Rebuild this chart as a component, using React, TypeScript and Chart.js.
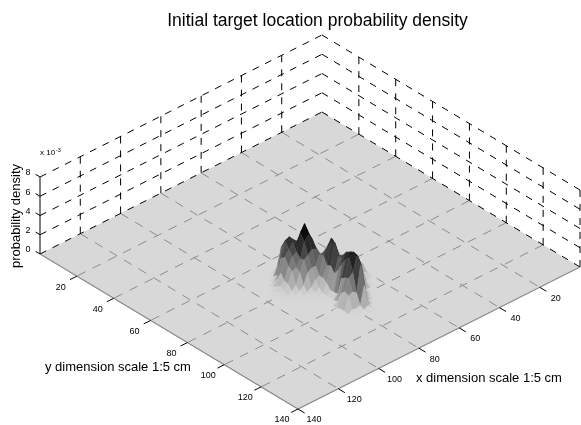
import React, { useEffect, useRef } from "react";
import { Chart, registerables } from "chart.js";

Chart.register(...registerables);

const titleText = "Initial target location probability density";
const zAxisLabel = "probability density";
const xAxisLabel = "x dimension scale 1:5 cm";
const yAxisLabel = "y dimension scale 1:5 cm";
const xTicks = [20, 40, 60, 80, 100, 120, 140];
const yTicks = [20, 40, 60, 80, 100, 120, 140];
const zTicks = [0, 2, 4, 6, 8];
const xGrid = [60, 62, 64, 66, 68, 70, 72, 74, 76, 78, 80, 82, 84, 86, 88, 90, 92, 94, 96];
const yGrid = [66, 68, 70, 72, 74, 76, 78, 80, 82, 84, 86, 88, 90, 92, 94, 96, 98, 100, 102, 104, 106, 108, 110, 112];
// probability density (x 10^-3), one row per xGrid value, one column per yGrid value
const density = [
  [0, 0, 0, 0, 0, 0, 0, 0, 0, 0, 0, 0, 0, 0, 0, 0, 0, 0, 0, 0, 0, 0, 0, 0],
  [0, 0, 0, 0, .2, .6, .4, .3, .6, 1.0, 1.1, 1.2, 1.1, .5, .1, 0, 0, 0, 0, 0, 0, 0, 0, 0],
  [.3, .1, 0, .5, 1.3, 2.2, 1.4, .7, 1.2, 1.7, 2.0, 2.1, 1.7, .7, 0, 0, 0, 0, 0, 0, 0, 0, 0, 0],
  [1.2, .9, .6, .5, 1.2, 2.1, 2.4, 2.0, 1.5, 1.8, 2.2, 2.6, 2.6, 2.4, 1.5, .5, 0, 0, 0, 0, 0, 0, 0, 0],
  [2.3, 1.8, 1.2, .9, .8, 1.6, 2.4, 3.1, 2.5, 1.5, 2.1, 2.7, 2.9, 3.0, 2.8, 2.0, 0, 0, 0, 0, 0, 0, 0, 0],
  [2.9, 3.0, 2.5, 2.0, 1.6, 1.3, 1.8, 2.6, 3.5, 2.9, 2.0, 2.5, 3.1, 3.2, 3.5, 3.3, 2.6, .5, 0, 0, 0, 0, 0, 0],
  [1.9, 3.0, 3.6, 3.0, 2.4, 2.0, 1.7, 2.2, 3.0, 3.9, 3.5, 2.6, 3.0, 3.6, 3.8, 4.0, 3.9, 3.1, 1.1, 0, 0, 0, 0, 0],
  [1.9, 2.3, 3.6, 3.9, 3.4, 2.9, 2.4, 2.1, 2.7, 3.4, 4.6, 4.2, 3.2, 3.4, 4.0, 4.2, 4.5, 4.4, 3.7, 1.6, 0, 0, 0, 0],
  [2.3, 2.3, 2.6, 4.0, 4.6, 4.0, 3.4, 3.0, 2.6, 3.0, 3.8, 4.6, 4.8, 3.6, 3.7, 4.4, 4.6, 4.8, 4.8, 4.1, 2.2, .3, 0, 0],
  [2.4, 2.8, 2.8, 2.8, 4.3, 5.2, 4.6, 4.2, 3.4, 3.1, 3.2, 2.4, 2.6, 2.0, 2.6, 3.5, 4.2, 4.6, 3.3, 1.4, .3, .1, 0, 0],
  [2.0, 2.8, 3.4, 3.2, 3.5, 4.7, 5.8, 4.9, 3.6, 2.1, 1.3, 1.3, 1.0, .5, .5, .6, 2.4, 2.7, 2.9, 1.7, .2, 0, 0, 0],
  [.3, 2.4, 3.4, 3.8, 3.9, 3.6, 5.0, 4.4, 3.2, 2.1, 1.1, .5, .2, .1, .1, .1, .2, 1.3, 1.7, 1.5, .3, 0, 0, 0],
  [0, .6, 2.9, 3.7, 4.4, 4.1, 3.3, 2.8, 2.9, 1.8, .5, .2, .1, 0, 0, 0, 0, 0, .1, .1, 0, 0, 0, 0],
  [0, 0, 1.2, 3.3, 4.2, 3.5, 3.0, 2.1, 1.8, .7, .2, .1, 0, 0, 0, 0, 0, 0, 0, 0, 0, 0, 0, 0],
  [0, 0, .2, .6, 2.6, 2.9, 2.2, 1.9, .7, .3, .1, 0, 0, 0, 0, 0, 0, 0, 0, 0, 0, 0, 0, 0],
  [0, 0, 0, 0, .6, 1.5, .9, .8, .3, .1, 0, 0, 0, 0, 0, 0, 0, 0, 0, 0, 0, 0, 0, 0],
  [0, 0, 0, 0, 0, .3, .5, .3, .1, 0, 0, 0, 0, 0, 0, 0, 0, 0, 0, 0, 0, 0, 0, 0],
  [0, 0, 0, 0, 0, 0, .1, .2, .1, 0, 0, 0, 0, 0, 0, 0, 0, 0, 0, 0, 0, 0, 0, 0],
  [0, 0, 0, 0, 0, 0, 0, 0, 0, 0, 0, 0, 0, 0, 0, 0, 0, 0, 0, 0, 0, 0, 0, 0],
];

const WIDTH = 581;
const HEIGHT = 425;
const XY_MAX = 140;
const Z_MAX = 8;
const FONT = "'Liberation Sans', Arial, sans-serif";

// Oblique view of the box, in canvas units.
const origin = { x: 322, y: 112 };
const xStep = { x: -282 / 140, y: 142 / 140 };
const yStep = { x: 258 / 140, y: 155 / 140 };
const zStep = -9.625;

const project = (x: number, y: number, z: number) => ({
  x: origin.x + x * xStep.x + y * yStep.x,
  y: origin.y + x * xStep.y + y * yStep.y + z * zStep,
});

const shade = (z: number) => {
  const v = Math.round(216 - Math.pow(Math.min(z / 5.0, 1), 1.2) * 205);
  return `rgb(${v},${v},${v})`;
};

const lineSet = (pts: { x: number; y: number }[], color: string, dash: number[] = [], width = 1) => ({
  data: pts,
  showLine: true,
  borderColor: color,
  borderWidth: width,
  borderDash: dash,
  pointRadius: 0,
  fill: false,
  clip: false as const,
});

const buildDatasets = () => {
  const sets: any[] = [];
  const dash = [7, 7];
  const floorDash = [9, 8];
  // Surface base
  sets.push({
    ...lineSet(
      [project(0, 0, 0), project(0, XY_MAX, 0), project(XY_MAX, XY_MAX, 0), project(XY_MAX, 0, 0)],
      "rgba(0,0,0,0)"
    ),
    fill: "shape",
    backgroundColor: "#d8d8d8",
  });
  // Floor grid
  xTicks.slice(0, -1).forEach((t) =>
    sets.push(lineSet([project(t, 0, 0), project(t, XY_MAX, 0)], "#8c8c8c", floorDash))
  );
  yTicks.slice(0, -1).forEach((t) =>
    sets.push(lineSet([project(0, t, 0), project(XY_MAX, t, 0)], "#8c8c8c", floorDash))
  );
  // Wall grid
  zTicks.forEach((z) => {
    sets.push(lineSet([project(XY_MAX, 0, z), project(0, 0, z)], "#000", dash));
    sets.push(lineSet([project(0, 0, z), project(0, XY_MAX, z)], "#000", dash));
  });
  xTicks.slice(0, -1).forEach((t) =>
    sets.push(lineSet([project(t, 0, 0), project(t, 0, Z_MAX)], "#000", dash))
  );
  yTicks.forEach((t) =>
    sets.push(lineSet([project(0, t, 0), project(0, t, Z_MAX)], "#000", dash))
  );
  // Surface patches, back to front
  for (let i = 0; i < xGrid.length - 1; i++) {
    for (let j = 0; j < yGrid.length - 1; j++) {
      const z = [density[i][j], density[i][j + 1], density[i + 1][j + 1], density[i + 1][j]];
      const top = Math.max(...z);
      if (top === 0) continue;
      const mean = (z[0] + z[1] + z[2] + z[3]) / 4;
      const c = shade(mean * 0.6 + top * 0.4);
      sets.push({
        ...lineSet(
          [
            project(xGrid[i], yGrid[j], z[0]),
            project(xGrid[i], yGrid[j + 1], z[1]),
            project(xGrid[i + 1], yGrid[j + 1], z[2]),
            project(xGrid[i + 1], yGrid[j], z[3]),
            project(xGrid[i], yGrid[j], z[0]),
          ],
          c,
          [],
          0.4
        ),
        fill: "shape",
        backgroundColor: c,
      });
    }
  }
  // Box edges along the near side
  sets.push(
    lineSet(
      [project(XY_MAX, 0, 0), project(XY_MAX, XY_MAX, 0), project(0, XY_MAX, 0)],
      "#8a8a8a",
      [],
      1.2
    )
  );
  // Axes and tick marks
  sets.push(lineSet([project(XY_MAX, 0, 0), project(XY_MAX, 0, Z_MAX)], "#000"));
  zTicks.forEach((z) => sets.push(lineSet([project(XY_MAX, 0, z), project(XY_MAX, -2.4, z)], "#000")));
  yTicks.forEach((t) => sets.push(lineSet([project(XY_MAX, t, 0), project(XY_MAX + 3.4, t, 0)], "#000")));
  xTicks.forEach((t) => sets.push(lineSet([project(t, XY_MAX, 0), project(t, XY_MAX + 3.6, 0)], "#000")));
  // The library paints the first dataset last, so number them explicitly.
  return sets.map((s, i) => ({ ...s, order: sets.length - i }));
};

const labelsPlugin = {
  id: "boxLabels",
  afterLayout(chart: any) {
    chart.titleBlock.left = 54;
  },
  afterDraw(chart: any) {
    const { ctx, scales } = chart;
    const at = (x: number, y: number, z: number) => {
      const p = project(x, y, z);
      return { x: scales.x.getPixelForValue(p.x), y: scales.y.getPixelForValue(p.y) };
    };
    ctx.save();
    ctx.fillStyle = "#000";
    ctx.textBaseline = "middle";
    ctx.textAlign = "center";
    ctx.font = `9px ${FONT}`;
    yTicks.forEach((t) => {
      const p = at(XY_MAX, t, 0);
      ctx.fillText(String(t), p.x - 16, p.y + 11);
    });
    xTicks.forEach((t) => {
      const p = at(t, XY_MAX, 0);
      ctx.fillText(String(t), p.x + 16, p.y + 11);
    });
    zTicks.forEach((z) => {
      const p = at(XY_MAX, 0, z);
      ctx.fillText(String(z), p.x - 12, p.y - 4);
    });
    ctx.textAlign = "left";
    ctx.font = `8px ${FONT}`;
    ctx.fillText("x 10", 40, 153);
    ctx.font = `5.5px ${FONT}`;
    ctx.fillText("-3", 56, 150);
    ctx.font = `13px ${FONT}`;
    ctx.fillText(xAxisLabel, 416, 378);
    ctx.fillText(yAxisLabel, 45, 367);
    ctx.translate(16, 216);
    ctx.rotate(-Math.PI / 2);
    ctx.textAlign = "center";
    ctx.fillText(zAxisLabel, 0, 0);
    ctx.restore();
  },
};

export default function App() {
  const ref = useRef<HTMLCanvasElement>(null);
  useEffect(() => {
    const chart = new Chart(ref.current!, {
      type: "scatter",
      data: { datasets: buildDatasets() },
      plugins: [labelsPlugin],
      options: {
        responsive: false,
        animation: false,
        layout: { padding: 0 },
        events: [],
        plugins: {
          legend: { display: false },
          tooltip: { enabled: false },
          title: {
            display: true,
            text: titleText,
            color: "#000",
            font: { family: FONT, size: 17.5, weight: "normal", lineHeight: 1.2 },
            padding: { top: 10.5, bottom: 0 },
          },
        },
        scales: {
          x: { type: "linear", display: false, min: 0, max: WIDTH },
          y: { type: "linear", display: false, reverse: true, min: 31.5, max: HEIGHT },
        },
      },
    } as any);
    return () => chart.destroy();
  }, []);
  return (
    <canvas
      ref={ref}
      width={WIDTH}
      height={HEIGHT}
      style={{ position: "fixed", left: 0, top: 0 }}
    />
  );
}
